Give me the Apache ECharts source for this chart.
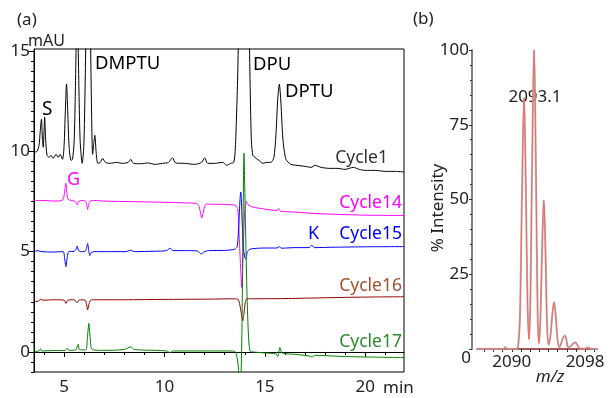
<!DOCTYPE html>
<html><head><meta charset="utf-8">
<script src="https://cdn.jsdelivr.net/npm/echarts@6/dist/echarts.min.js"></script>
<style>html,body{margin:0;padding:0;background:#fff}#c{width:616px;height:398px}</style>
</head><body><div id="c"></div>
<script>
const FONT = '"Noto Sans", "Open Sans", sans-serif';

// (a) chromatograms: [time (min), absorbance (mAU, offset)]
const cycle1 = [[3.5,9.95],[3.65,10.0],[3.75,10.3],[3.81,11.0],[3.87,11.6],[3.92,10.6],[3.96,10.2],[4.0,11.0],[4.03,11.7],[4.08,10.6],[4.15,9.8],[4.25,9.7],[4.35,9.8],[4.45,9.65],[4.6,9.85],[4.7,9.7],[4.8,9.85],[4.92,9.6],[5.0,10.3],[5.06,12.0],[5.12,13.35],[5.18,12.0],[5.25,10.2],[5.35,9.55],[5.42,9.6],[5.5,10.5],[5.56,13],[5.65,17.5],[5.74,13],[5.8,10.5],[5.9,9.4],[5.98,10.2],[6.05,13.5],[6.1,16.5],[6.2,20],[6.3,16.5],[6.36,12.5],[6.42,9.85],[6.48,10.4],[6.53,10.8],[6.6,9.9],[6.68,9.4],[6.8,9.45],[6.92,9.65],[7.05,9.45],[7.3,9.4],[7.6,9.45],[7.9,9.4],[8.2,9.45],[8.32,9.6],[8.45,9.4],[8.8,9.38],[9.2,9.42],[9.5,9.35],[9.9,9.4],[10.2,9.45],[10.4,9.68],[10.55,9.42],[11.0,9.4],[11.5,9.35],[11.85,9.45],[12.0,9.68],[12.15,9.4],[12.5,9.4],[12.9,9.45],[13.1,9.3],[13.3,9.4],[13.45,9.45],[13.52,10],[13.58,11.5],[13.64,13.5],[13.68,15.5],[13.8,25],[13.95,30],[14.1,25],[14.23,15.5],[14.28,12.5],[14.33,10.5],[14.4,9.8],[14.5,9.7],[14.7,9.55],[14.9,9.4],[15.1,9.45],[15.3,9.45],[15.45,9.7],[15.55,10.8],[15.64,12.6],[15.72,13.35],[15.8,12.4],[15.9,10.6],[16.05,9.6],[16.3,9.35],[16.6,9.3],[17.0,9.25],[17.3,9.2],[17.5,9.3],[17.8,9.2],[18.2,9.15],[18.6,9.15],[19.0,9.1],[19.4,9.2],[19.7,9.1],[20.0,9.05],[20.5,9.05],[21.0,9.0],[21.5,9.0],[21.93,8.97]];
const cycle14 = [[3.5,7.55],[4.0,7.55],[4.5,7.52],[4.9,7.55],[4.98,7.7],[5.04,8.1],[5.09,8.4],[5.14,7.9],[5.2,7.6],[5.4,7.55],[5.55,7.5],[5.62,7.4],[5.66,7.32],[5.72,7.5],[5.9,7.55],[6.08,7.5],[6.13,7.3],[6.17,7.1],[6.22,7.35],[6.3,7.52],[6.5,7.55],[7.0,7.52],[8.0,7.5],[9.0,7.48],[10.0,7.46],[11.0,7.43],[11.6,7.4],[11.72,7.25],[11.8,6.9],[11.85,6.67],[11.92,6.9],[12.0,7.25],[12.1,7.38],[12.3,7.36],[12.8,7.36],[13.3,7.34],[13.55,7.3],[13.65,7.1],[13.72,5.8],[13.8,4.0],[13.85,3.2],[13.9,4.5],[13.97,6.5],[14.03,7.35],[14.07,7.5],[14.15,7.35],[14.4,7.22],[15.0,7.12],[15.6,7.05],[15.68,7.15],[15.78,7.02],[16.5,6.97],[17.5,6.9],[18.5,6.86],[19.5,6.83],[20.5,6.81],[21.93,6.8]];
const cycle15 = [[3.5,5.0],[3.7,5.05],[3.85,5.0],[4.5,4.98],[4.95,5.0],[5.02,4.7],[5.09,4.25],[5.16,4.75],[5.24,5.0],[5.5,5.02],[5.6,5.12],[5.65,5.28],[5.71,5.08],[5.8,5.0],[6.05,5.02],[6.12,5.2],[6.17,5.4],[6.22,5.1],[6.28,4.8],[6.35,4.95],[6.5,5.0],[7.0,5.0],[8.1,5.0],[8.3,5.07],[8.5,5.0],[9.5,5.02],[10.1,5.05],[10.27,5.17],[10.45,5.05],[11.0,5.05],[11.65,5.03],[11.78,4.92],[11.85,4.88],[11.95,4.98],[12.2,5.05],[13.0,5.06],[13.5,5.12],[13.62,5.25],[13.7,6.3],[13.76,7.6],[13.8,7.97],[13.85,7.0],[13.92,5.3],[14.0,4.7],[14.06,4.63],[14.12,4.95],[14.25,5.12],[15.0,5.18],[15.6,5.18],[15.72,5.25],[15.82,5.17],[16.5,5.2],[17.2,5.2],[17.34,5.32],[17.46,5.2],[18.5,5.22],[20.0,5.24],[21.93,5.25]];
const cycle16 = [[3.5,2.52],[3.7,2.52],[3.82,2.63],[3.95,2.58],[4.5,2.6],[5.0,2.58],[5.09,2.42],[5.18,2.58],[5.5,2.6],[5.65,2.45],[5.75,2.6],[6.05,2.58],[6.12,2.35],[6.17,2.1],[6.23,2.35],[6.32,2.58],[6.5,2.6],[8.0,2.6],[10.0,2.62],[12.0,2.63],[13.5,2.65],[13.68,2.6],[13.78,2.2],[13.85,1.75],[13.9,1.55],[13.95,1.85],[14.02,2.45],[14.1,2.65],[14.5,2.65],[16.0,2.66],[17.5,2.69],[19.0,2.72],[20.5,2.74],[21.93,2.75]];
const cycle17 = [[3.5,0.02],[3.75,0.05],[3.82,0.15],[3.9,0.05],[4.5,0.07],[5.05,0.08],[5.15,0.18],[5.24,0.08],[5.58,0.1],[5.66,0.3],[5.7,0.38],[5.76,0.12],[6.08,0.1],[6.16,0.7],[6.23,1.42],[6.3,0.7],[6.4,0.12],[7.0,0.08],[8.0,0.12],[8.3,0.25],[8.5,0.12],[9.5,0.08],[10.1,0.05],[10.27,-0.03],[10.45,0.05],[11.0,0.05],[12.0,0.05],[13.0,0.05],[13.5,0.03],[13.6,-0.2],[13.68,-0.8],[13.74,-3],[13.84,0],[13.9,5],[13.96,9.9],[14.03,6.5],[14.12,2.5],[14.2,0.5],[14.27,0.05],[14.4,0.0],[15.0,-0.05],[15.55,-0.1],[15.64,-0.22],[15.75,0.22],[15.86,-0.05],[16.5,-0.12],[17.2,-0.2],[17.34,-0.25],[17.5,-0.17],[19.0,-0.23],[20.5,-0.26],[21.93,-0.28]];

// (b) mass spectrum: [m/z, % intensity]
const spectrum = [[2086.2,0],[2088.5,0],[2089.1,0],[2089.3,0.6],[2089.5,0],[2090.5,0],[2090.7,1.2],[2090.9,12],[2091.1,50],[2091.34,84],[2091.55,50],[2091.72,15],[2091.88,3.3],[2092.02,15],[2092.2,58],[2092.43,100],[2092.64,58],[2092.82,12],[2092.96,1.9],[2093.12,10],[2093.3,32],[2093.49,49.7],[2093.68,32],[2093.86,7],[2094.03,1.4],[2094.24,5],[2094.42,11.5],[2094.61,15.6],[2094.8,11],[2094.98,3.5],[2095.2,0.6],[2095.45,2.5],[2095.6,3.8],[2095.78,4.5],[2095.95,3.2],[2096.15,0.6],[2096.45,1.0],[2096.7,1.8],[2096.94,2.2],[2097.15,1.4],[2097.4,0.2],[2098.0,0.1],[2098.3,0.5],[2098.6,0.1],[2099.3,0]];

// tick labels
const aXLabels = [5, 10, 15, 20];
const aXMinor = [4, 6, 7, 8, 9, 11, 12, 13, 14, 16, 17, 18, 19, 21];
const aYLabels = [0, 5, 10, 15];
const aYMinor = [-1, -0.5, 0.5, 1, 1.5, 2, 2.5, 3, 3.5, 4, 4.5, 5.5, 6, 6.5, 7, 7.5, 8, 8.5, 9, 9.5, 10.5, 11, 11.5, 12, 12.5, 13, 13.5, 14, 14.5];
const bXLabels = [2090, 2098];
const bXTicks = [2087, 2088, 2089, 2090, 2091, 2092, 2093, 2094, 2095, 2096, 2097, 2098, 2099];

const lbl = {fontSize: 17, color: '#222', fontFamily: FONT};
const chart = echarts.init(document.getElementById('c'), null, {renderer: 'canvas'});
function line(name, data, color, xi, yi, w, extra) {
  return Object.assign({type: 'line', name, data, xAxisIndex: xi, yAxisIndex: yi, symbol: 'none',
    smooth: 0.25, lineStyle: {color, width: w || 1}, animation: false, clip: true}, extra || {});
}
function txt(text, x, y, color, size, opts) {
  return Object.assign({type: 'text', x, y, style: Object.assign({text, fill: color, font: `${size}px ${FONT}`,
    textAlign: 'left', textVerticalAlign: 'middle'}, (opts && opts.style) || {})}, (opts && opts.el) || {});
}
chart.setOption({
  animation: false,
  grid: [
    {left: 34, top: 49, width: 370, height: 323, show: true, borderColor: '#000', borderWidth: 1, backgroundColor: 'transparent'},
    {left: 477, top: 50, width: 120, height: 299}
  ],
  xAxis: [
    {gridIndex: 0, type: 'value', min: 3.5, max: 21.93, axisLine: {lineStyle: {color: '#000'}},
     axisTick: {customValues: aXLabels, length: 5, lineStyle: {color: '#000'}},
     axisLabel: Object.assign({customValues: aXLabels, margin: 7}, lbl), splitLine: {show: false}},
    {gridIndex: 0, type: 'value', min: 3.5, max: 21.93, position: 'bottom', axisLine: {show: false},
     axisTick: {customValues: aXMinor, length: 3, lineStyle: {color: '#000'}},
     axisLabel: {show: false}, splitLine: {show: false}},
    {gridIndex: 1, type: 'value', min: 2086.2, max: 2099.3, axisLine: {lineStyle: {color: '#8b2222', width: 1.5}},
     axisTick: {customValues: bXTicks, length: 3, lineStyle: {color: '#333'}},
     axisLabel: Object.assign({customValues: bXLabels, margin: 5, formatter: v => String(v)}, lbl), splitLine: {show: false}}
  ],
  yAxis: [
    {gridIndex: 0, type: 'value', min: -1, max: 15.1, axisLine: {show: true, lineStyle: {color: '#000'}},
     axisTick: {customValues: aYLabels, length: 5, lineStyle: {color: '#000'}},
     axisLabel: Object.assign({customValues: aYLabels, margin: 4}, lbl), splitLine: {show: false}},
    {gridIndex: 0, type: 'value', min: -1, max: 15.1, position: 'left', axisLine: {show: false},
     axisTick: {customValues: aYMinor, length: 3, lineStyle: {color: '#000'}},
     axisLabel: {show: false}, splitLine: {show: false}},
    {gridIndex: 1, type: 'value', min: 0, max: 100, interval: 25, offset: 5,
     axisLine: {show: true, lineStyle: {color: '#808080', width: 2}},
     axisTick: {length: 3, lineStyle: {color: '#333'}},
     minorTick: {show: true, splitNumber: 5, length: 2, lineStyle: {color: '#333'}},
     axisLabel: Object.assign({margin: 3, formatter: v => v === 0 ? '' : String(v)}, lbl), splitLine: {show: false}}
  ],
  series: [
    line('Cycle1', cycle1, '#000000', 0, 0),
    line('Cycle16', cycle16, '#8b0000', 0, 0),
    line('Cycle14', cycle14, '#ff00ff', 0, 0),
    line('Cycle15', cycle15, '#0000ff', 0, 0),
    line('Cycle17', cycle17, '#008000', 0, 0),
    line('spec-gray', spectrum, 'rgba(175,165,165,0.85)', 2, 2, 2, {smooth: 0.35}),
    line('spec-red', spectrum, '#f06a66', 2, 2, 1, {smooth: 0.35})
  ],
  graphic: [
    txt('(a)', 17, 20, '#222', 17),
    txt('mAU', 28, 41, '#222', 16),
    txt('S', 42, 110, '#000', 19),
    txt('DMPTU', 95, 64, '#000', 18.5),
    txt('DPU', 253, 65, '#000', 18.5),
    txt('DPTU', 285, 92, '#000', 18.5),
    txt('Cycle1', 388, 158, '#333', 17.5, {style: {textAlign: 'right'}}),
    txt('G', 67, 180, '#ff00ff', 18),
    txt('Cycle14', 402, 203, '#ff00ff', 17.5, {style: {textAlign: 'right'}}),
    txt('K', 308, 234, '#0000ff', 18),
    txt('Cycle15', 402, 234, '#0000ff', 17.5, {style: {textAlign: 'right'}}),
    txt('Cycle16', 402, 286, '#a0522d', 17.5, {style: {textAlign: 'right'}}),
    txt('Cycle17', 402, 342, '#2e8b2e', 17.5, {style: {textAlign: 'right'}}),
    txt('min', 383, 388, '#222', 17),
    txt('(b)', 413, 19, '#222', 17),
    txt('2093.1', 535, 97, '#222', 17, {style: {textAlign: 'center'}}),
    txt('0', 471, 358, '#222', 17, {style: {textAlign: 'right'}}),
    txt('m/z', 550, 377, '#222', 17, {style: {textAlign: 'center', font: `italic 17px ${FONT}`}}),
    {type: 'text', x: 438, y: 208, rotation: Math.PI / 2,
     style: {text: '% Intensity', fill: '#222', font: `17px ${FONT}`, textAlign: 'center', textVerticalAlign: 'middle'}}
  ]
});
</script></body></html>
